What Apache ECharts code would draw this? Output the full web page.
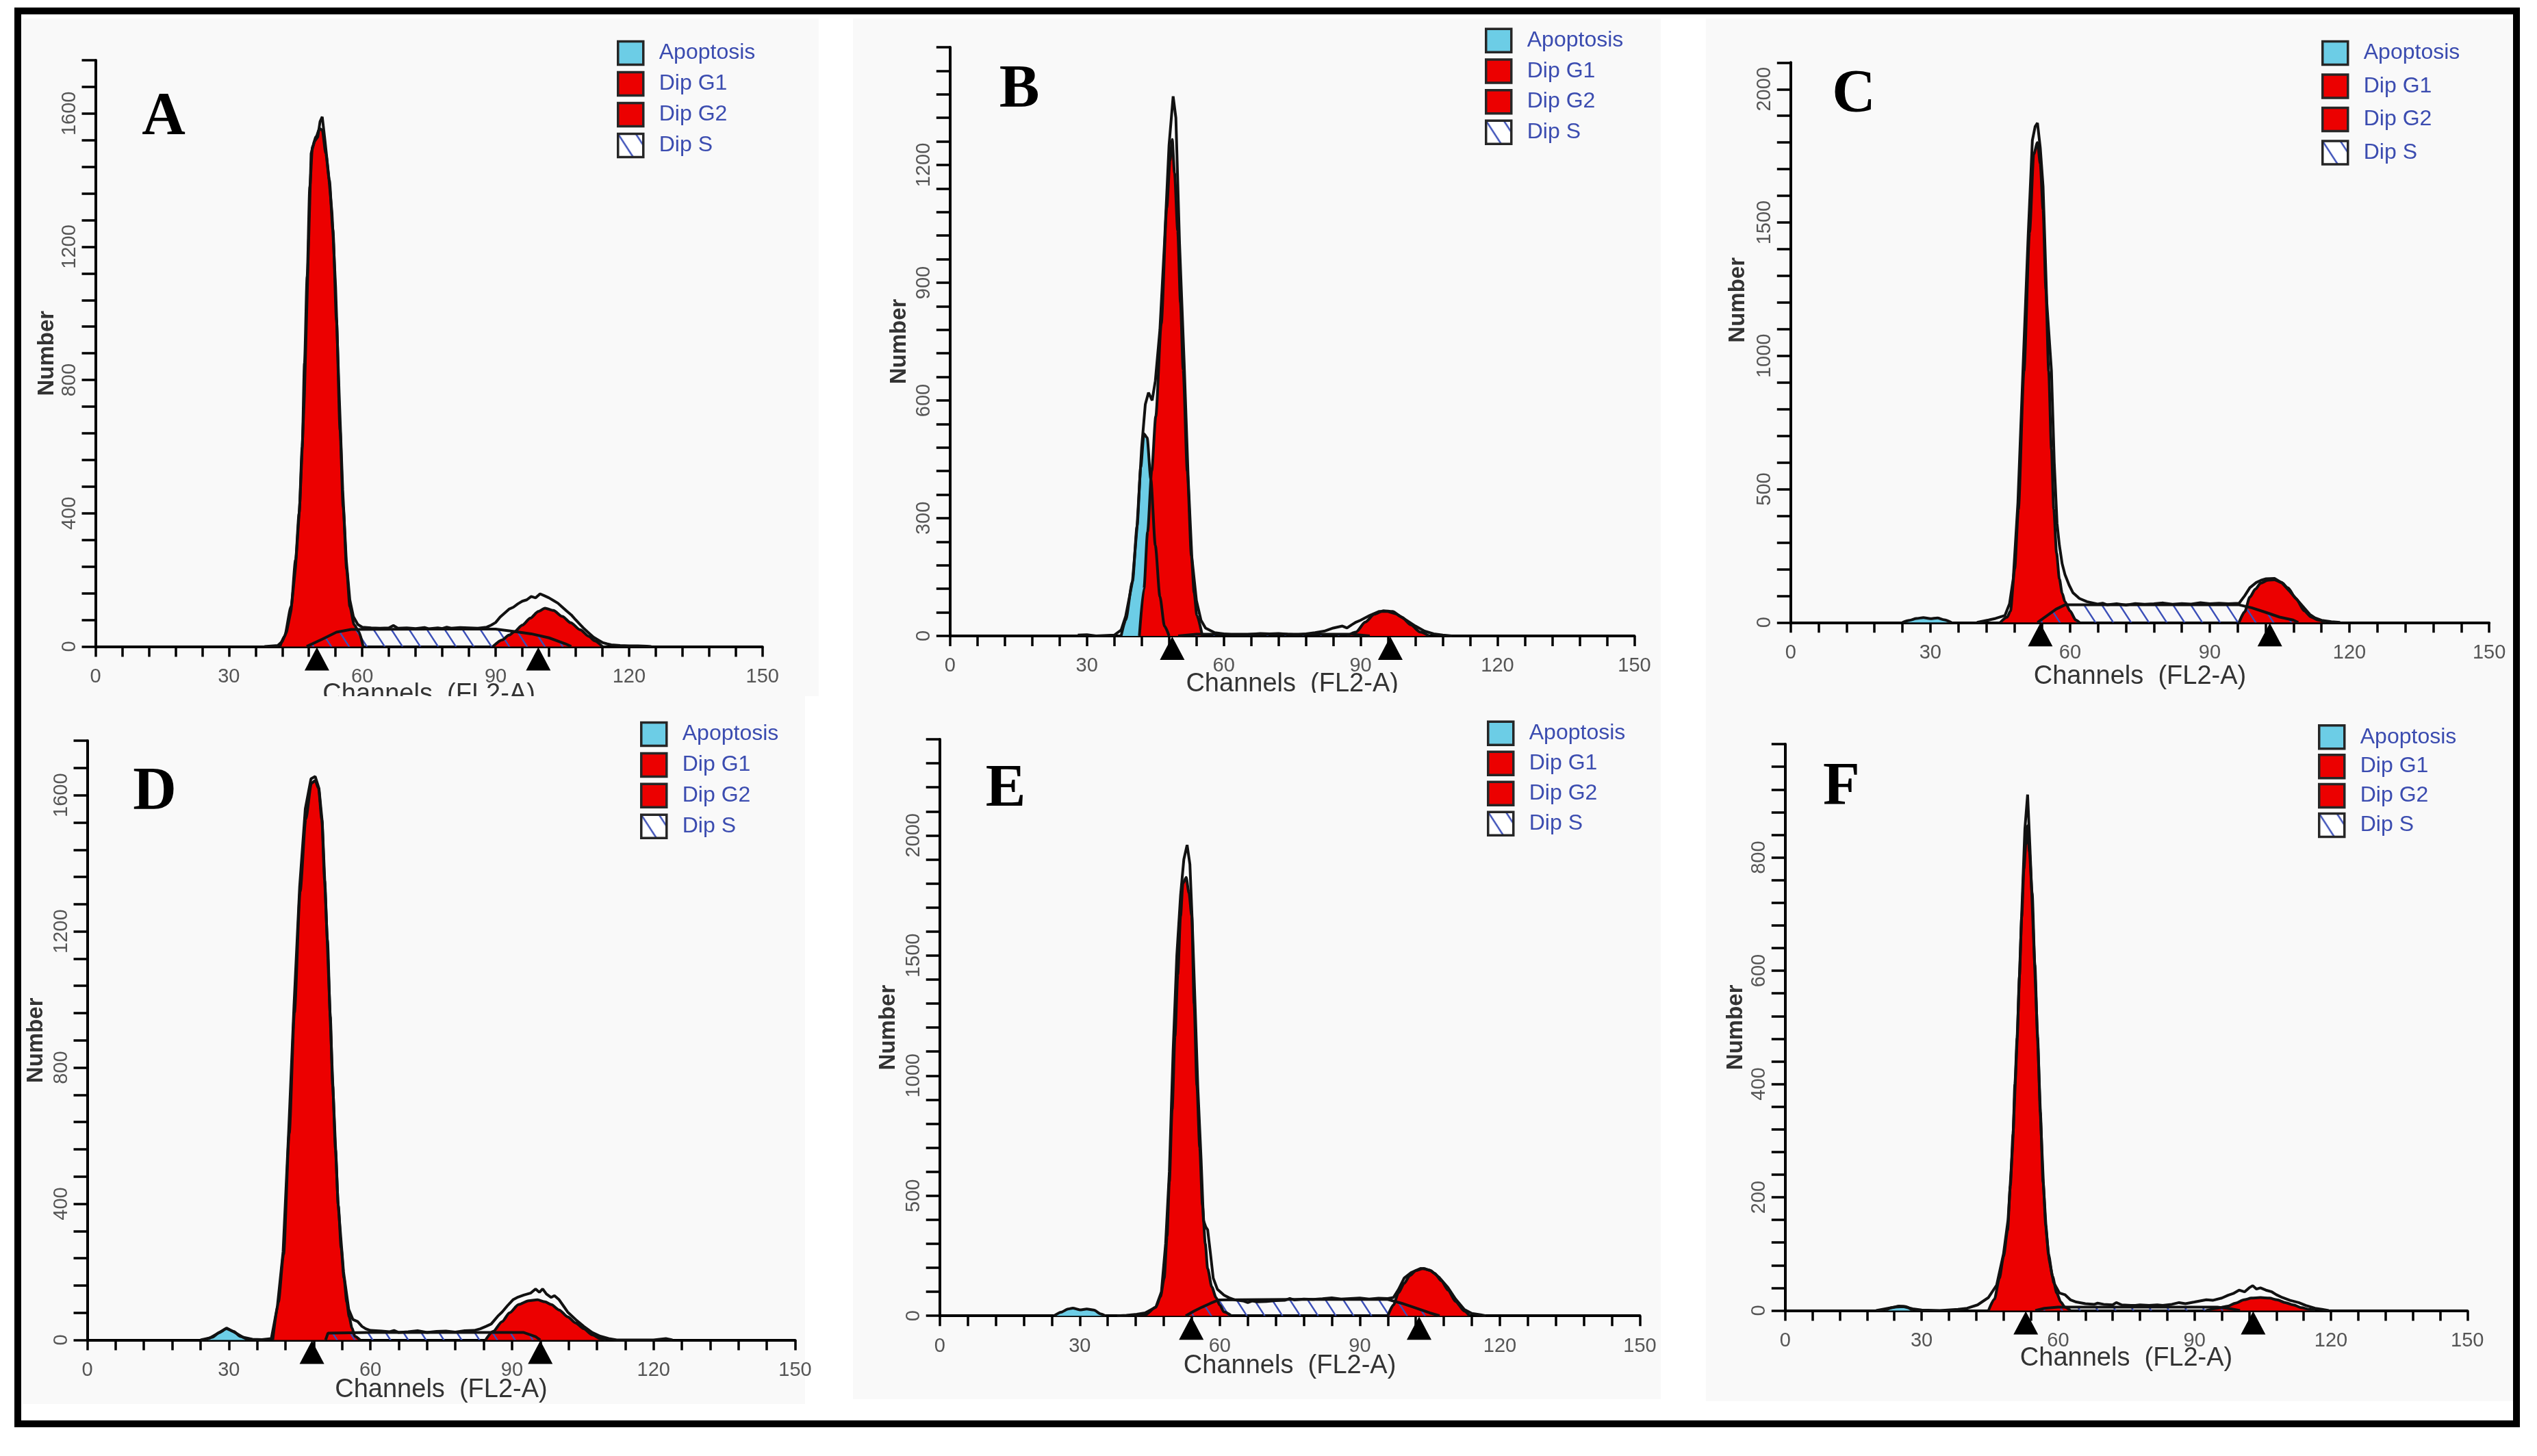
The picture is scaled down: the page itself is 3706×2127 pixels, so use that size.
<!DOCTYPE html>
<html>
<head>
<meta charset="utf-8">
<title>Cell cycle histograms A-F</title>
<script src="https://cdn.jsdelivr.net/npm/echarts@6/dist/echarts.min.js"></script>
<style>
html, body { margin: 0; padding: 0; background: #fff; }
#main { width: 3706px; height: 2127px; }
</style>
</head>
<body>
<div id="main"></div>
<script>
// legend names and panel letters
var legendNames = ['Apoptosis', 'Dip G1', 'Dip G2', 'Dip S'];
var panelLetters = ['A', 'B', 'C', 'D', 'E', 'F'];

// axes: x in channels, y in counts (per panel)
var xMax = 150, xMinor = 6, xLabelStep = 30;
var yMax = [1760, 1500, 2100, 1760, 2400, 1000];
var yMinor = [80, 60, 100, 80, 100, 40];
var yLabelStep = [400, 300, 500, 400, 500, 200];

// ---- panel A ----
var aApop = [];
var aG1 = [[41.5,0],[42.5,30],[44,120],[45,260],[45.8,400],[46.5,600],[47,850],[47.6,1110],[48.2,1380],[48.8,1500],[49.6,1530],[50.4,1555],[51,1550],[51.8,1480],[52.6,1400],[53.4,1250],[54.2,980],[55,650],[55.7,420],[56.5,230],[57.2,120],[58.2,65],[59.2,45],[60.2,0]];
var aG2 = [[89.4,0],[91.5,20],[93,34],[94.2,44],[96,64],[97.8,85],[99.6,105],[101.1,115],[103,108],[105,90],[106.9,71],[109,50],[111,30],[112.3,17],[114,0]];
var aS = [[47.5,0],[51,22],[54.2,43],[57.5,51],[75,52],[90,52],[94.2,45],[98,38],[102,26],[105.7,8],[107,0]];
var aHist = [[38,0],[41,3],[42,15],[43,45],[44,110],[45,240],[46,440],[47,760],[47.8,1150],[48.5,1480],[49.2,1515],[50,1530],[50.5,1575],[51,1590],[51.6,1520],[52.4,1420],[53.2,1300],[54,1080],[54.8,760],[55.6,470],[56.4,260],[57.2,140],[58,90],[59,66],[60,58],[62,56],[64,55],[66,56],[67,63],[68,55],[70,56],[72,54],[74,57],[75,53],[77,56],[78,54],[79,58],[80,55],[82,57],[84,56],[86,55],[88,58],[89,64],[90,72],[91,88],[92,100],[93,112],[94,118],[95,128],[96,136],[97,140],[98,150],[99,146],[100,158],[101,152],[102,146],[103,138],[104,130],[105,118],[106,106],[107,95],[108,80],[109,66],[110,52],[111,40],[112,28],[113,20],[114,12],[115,8],[116,5],[118,3],[120,2],[122,2],[124,1],[125,0]];
var aMarks = [49.8, 99.6];

// ---- panel B ----
var bApop = [[37.5,0],[38.5,40],[40,140],[41,280],[41.8,430],[42.5,515],[43.2,505],[44,400],[45,230],[46,100],[47,25],[48,0]];
var bG1 = [[41.5,0],[42.5,120],[43.3,265],[44.2,420],[45.1,560],[46.3,796],[47.5,1091],[48.2,1210],[48.7,1265],[49.2,1180],[49.9,1032],[50.5,850],[51.1,678],[52,420],[52.9,205],[53.5,110],[54.1,52],[55.3,0]];
var bG2 = [[87,0],[89,10],[91,35],[93,55],[95,64],[97,62],[99,48],[101,28],[103,10],[105,0]];
var bS = [[50,0],[54,4],[88,4],[92,0]];
var bHist = [[28,2],[30,3],[32,0],[36,2],[37.5,15],[38.5,50],[40,140],[41,280],[42,480],[42.8,590],[43.5,620],[44.3,600],[45,650],[46,780],[47,1000],[48,1250],[48.9,1375],[49.5,1320],[50.3,1000],[51.3,700],[52.2,400],[53,200],[54,90],[55,40],[56,20],[58,8],[60,5],[62,3],[64,2],[66,4],[68,6],[70,5],[72,6],[74,4],[76,3],[78,5],[80,8],[82,12],[84,20],[86,25],[87,20],[88,28],[89,35],[90,40],[92,52],[94,62],[96,62],[98,55],[100,40],[102,25],[104,12],[106,5],[108,2],[110,0]];
var bMarks = [48.7, 96.5];

// ---- panel C ----
var cApop = [[24,0],[25.5,8],[27,15],[28.5,18],[30,14],[31.5,17],[33,10],[34.5,0]];
var cG1 = [[45,0],[46.5,20],[47.2,43],[48.1,200],[48.9,424],[50.1,943],[51.3,1462],[52.2,1756],[53,1800],[53.6,1720],[54.2,1548],[54.8,1250],[55.4,943],[56,650],[56.5,424],[57.1,260],[57.7,164],[58.3,110],[58.9,78],[60,43],[61.2,9],[62,0]];
var cG2 = [[96.3,0],[97.5,40],[98.6,95],[99.8,125],[100.9,147],[102.4,158],[103.9,160],[105.4,150],[106.8,130],[108.5,90],[110.3,43],[111.8,20],[113.2,9],[115,0]];
var cS = [[53,0],[55,25],[57,50],[58.9,66],[75,66],[96.3,66],[99,55],[102,38],[105,20],[107.9,9],[109,0]];
var cHist = [[40,0],[42.5,9],[44,15],[46,26],[47,70],[47.8,164],[48.8,450],[50,1000],[51,1450],[51.9,1808],[52.5,1860],[53,1873],[53.6,1780],[54.2,1635],[55,1200],[56,943],[56.6,600],[57.2,372],[57.7,290],[58.3,220],[58.9,180],[59.8,140],[60.6,112],[62,90],[63.6,78],[65.9,69],[67,72],[68,66],[70,70],[72,65],[74,71],[76,68],[78,70],[80,73],[82,68],[84,71],[86,69],[88,74],[90,70],[92,72],[94,70],[96.3,72],[97.5,100],[98.6,130],[100,150],[101,158],[102.1,164],[103.9,165],[105.6,147],[107,120],[108,100],[109.1,78],[110.5,50],[111.5,30],[112.6,17],[114,8],[116.1,3],[118,0]];
var cMarks = [53.6, 102.9];

// ---- panel D ----
var dApop = [[25,0],[26.5,8],[28,22],[29.5,33],[31,25],[32.5,10],[34,0]];
var dG1 = [[39.3,0],[40.5,111],[41.6,252],[42.8,607],[43.9,962],[45.1,1316],[46.3,1529],[47.5,1635],[48.3,1643],[49,1620],[49.7,1529],[50.3,1350],[50.9,1174],[51.5,950],[52,749],[52.6,560],[53.2,394],[53.8,270],[54.4,182],[55,110],[55.5,68],[56.1,35],[56.7,11],[57.8,0]];
var dG2 = [[84.4,0],[86,25],[87.9,54],[89.5,80],[91.4,104],[93.5,115],[95.4,118],[97,112],[98.3,104],[100,88],[101.8,68],[103.5,50],[105.2,33],[107,15],[108.7,4],[109.9,0]];
var dS = [[50.5,0],[51,20],[60,22],[80,22],[92.5,22],[95,10],[96,0]];
var dHist = [[24,0],[26,6],[28,22],[29.5,35],[31,24],[33,8],[35,2],[37,1],[39,4],[40.3,100],[41.5,260],[42.7,620],[43.8,980],[45,1330],[46.2,1560],[47.4,1648],[48.3,1655],[49.1,1620],[49.8,1520],[50.8,1190],[52,760],[53.1,410],[54.3,200],[55.4,90],[56.3,60],[57.3,54],[58.2,40],[59,33],[60,28],[62.4,26],[64,24],[65,28],[66,22],[68,24],[70,27],[72,22],[74,25],[76,26],[78,23],[80,27],[82,28],[83.3,33],[84.5,40],[85.6,47],[87,70],[87.9,82],[89,100],[90.2,118],[91.3,126],[92.5,132],[94,138],[95,150],[95.8,140],[96.5,150],[97.3,135],[98.3,125],[99,130],[100,118],[101,98],[101.8,82],[103.5,60],[105.2,40],[107,22],[108.7,11],[110.5,4],[112.2,0],[120,0],[122.6,4],[124,0]];
var dMarks = [47.6, 96.0];

// ---- panel E ----
var eApop = [[24.5,0],[26,15],[27.5,28],[28.5,32],[30,25],[31.5,28],[33,24],[34.5,8],[35.5,0]];
var eG1 = [[42,0],[44,4],[46.3,36],[47.3,80],[48.1,157],[48.7,330],[49.2,559],[49.8,860],[50.4,1162],[51,1420],[51.6,1664],[52.1,1800],[52.8,1825],[53.4,1760],[54,1664],[54.5,1300],[55.1,960],[55.7,700],[56.3,458],[56.9,300],[57.4,197],[58.3,120],[59.2,76],[60,45],[60.9,16],[62.5,0]];
var eG2 = [[96,0],[97.2,45],[98.3,96],[99.5,135],[100.7,167],[102,188],[103.6,197],[105,190],[106,177],[107.5,145],[108.9,107],[110.5,60],[112.4,20],[113.5,0]];
var eS = [[52.7,0],[54.5,20],[56.2,36],[58,52],[59.7,66],[75,68],[90,68],[96,68],[99,52],[103,26],[105,12],[107.1,0]];
var eHist = [[38,0],[40,2],[42.2,6],[44,12],[46.3,36],[47.5,100],[48.4,300],[49.2,600],[50,1100],[50.8,1500],[51.6,1750],[52.3,1900],[53,1960],[53.6,1880],[54.1,1640],[54.7,1300],[55.3,950],[56,650],[56.5,398],[57,370],[57.4,358],[58,260],[58.6,157],[59.5,110],[60.9,86],[62,75],[63.3,66],[65,62],[66,55],[67,62],[68,58],[70,60],[72,63],[74,65],[75,72],[76,66],[78,70],[80,68],[82,71],[84,75],[86,70],[88,72],[90,74],[92,70],[94,73],[96,72],[97.2,76],[98.3,110],[99.5,157],[101,180],[103,197],[104,195],[105.3,187],[107,160],[108.9,117],[110.5,70],[112.4,26],[114,10],[115.9,4],[117,0]];
var eMarks = [53.9, 102.7];

// ---- panel F ----
var fApop = [[22,0],[23.5,5],[25,8],[26.5,7],[28,0]];
var fG1 = [[44.7,0],[46,20],[47.1,57],[48,95],[48.9,142],[49.5,220],[50.1,312],[50.5,400],[51,482],[51.5,590],[52,695],[52.5,780],[52.9,822],[53.3,856],[53.7,810],[54.3,737],[54.9,610],[55.5,482],[56.1,350],[56.7,227],[57.3,150],[57.9,99],[58.8,60],[59.7,31],[60.6,15],[61.5,6],[62.7,0]];
var fG2 = [[92.6,0],[95,4],[97.4,8],[99,13],[100.9,19],[102.5,22],[104.5,23],[106.5,22],[108.1,19],[110,14],[111.7,10],[113.5,5],[115.3,2],[116.5,0]];
var fS = [[55,0],[57,4],[60,6],[80,6],[95,6],[98,3],[100,0]];
var fHist = [[20,0],[22,3],[24,6],[26,7],[28,3],[30,1],[34,0],[38,2],[40,4],[42.3,10],[44.7,23],[46.5,45],[48,100],[49,160],[50,290],[51,480],[52,700],[52.7,850],[53.3,911],[53.8,820],[54.4,700],[55,580],[55.6,460],[56.2,330],[56.8,220],[57.4,140],[58,92],[59,50],[60.3,31],[61.5,28],[62.7,19],[64,15],[66,12],[68,11],[68.7,13],[70,11],[72,10],[72.8,14],[74,10],[76,9],[77,9],[78,10],[80,9],[81.8,10],[83,9],[85,11],[86.6,14],[88,12],[90,15],[92.6,19],[94,18],[96,22],[97.4,27],[98.5,30],[99.8,36],[101,33],[102,40],[102.8,44],[103.6,38],[104.5,40],[105.7,36],[107,33],[108,28],[109.3,23],[111,18],[112.9,14],[114.5,9],[116.5,4],[118,2],[119.5,0]];
var fMarks = [52.9, 102.9];

var panelData = [
  { apop: aApop, g1: aG1, g2: aG2, s: aS, hist: aHist, marks: aMarks },
  { apop: bApop, g1: bG1, g2: bG2, s: bS, hist: bHist, marks: bMarks },
  { apop: cApop, g1: cG1, g2: cG2, s: cS, hist: cHist, marks: cMarks },
  { apop: dApop, g1: dG1, g2: dG2, s: dS, hist: dHist, marks: dMarks },
  { apop: eApop, g1: eG1, g2: eG2, s: eS, hist: eHist, marks: eMarks },
  { apop: fApop, g1: fG1, g2: fG2, s: fS, hist: fHist, marks: fMarks }
];

// layout of each sub-plot (pixels)
var layout = [
  { l: 139.5,  t: 87.9,   w: 974.2,  h: 856.5, gx: 51, gy: 54, letter: [239, 172],   lg: [901, 58.7, 7.5] },
  { l: 1387.8, t: 69,     w: 999.7,  h: 859.9, gx: 52, gy: 57, letter: [1489, 132],  lg: [2169, 40.5, 7.2] },
  { l: 2615.8, t: 91.3,   w: 1020.3, h: 818,   gx: 60, gy: 60, letter: [2708, 139],  lg: [3391, 58.7, 11], shift: 124 },
  { l: 127.5,  t: 1082.1, w: 1034,   h: 875.4, gx: 54, gy: 58, letter: [226, 1158],  lg: [935, 1053.8, 7.4] },
  { l: 1372.7, t: 1080,   w: 1022.8, h: 842.2, gx: 54, gy: 58, letter: [1469, 1154], lg: [2172, 1052.4, 6.5] },
  { l: 2607.8, t: 1087.1, w: 996.5,  h: 827.4, gx: 51, gy: 55, letter: [2690, 1151], lg: [3386, 1058, 5.4] }
];
var panelBg = [
  [32, 27, 1164, 990], [1246, 27, 1180, 985], [2492, 27, 1184, 990],
  [32, 1017, 1144, 1034], [1246, 1012, 1180, 1032], [2492, 1017, 1184, 1030]
];

var RED = '#ec0000', CYAN = '#6ccde6', EDGE = '#111', HATCH = '#3b4fb8';
var FONT = 'Liberation Sans';

// diagonal hatch tile for "Dip S"
function hatch(bg) {
  var c = document.createElement('canvas');
  c.width = 26; c.height = 40;
  var g = c.getContext('2d');
  if (bg) { g.fillStyle = bg; g.fillRect(0, 0, 26, 40); }
  g.strokeStyle = HATCH;
  g.lineWidth = 2.4;
  [-26, 0, 26].forEach(function (o) {
    g.beginPath(); g.moveTo(o, 0); g.lineTo(o + 26, 40); g.stroke();
  });
  return c;
}
var sFill = { image: hatch(null), repeat: 'repeat' };
var sLegendFill = { image: hatch('#ffffff'), repeat: 'repeat' };

var grids = [], xAxes = [], yAxes = [], series = [], legends = [], graphics = [];

panelBg.forEach(function (b, i) {
  graphics.push({
    type: 'rect', z: i < 3 ? 0 : 2, silent: true,
    shape: { x: b[0], y: b[1], width: b[2], height: b[3] },
    style: { fill: '#f9f9f9' }
  });
});

function area(name, data, fill, i, smooth) {
  return {
    name: name, type: 'line', xAxisIndex: i, yAxisIndex: i, data: data,
    symbol: 'none', smooth: smooth, smoothMonotone: 'x', z: 4,
    itemStyle: { color: typeof fill === 'string' ? fill : '#ffffff' },
    lineStyle: { color: EDGE, width: 4 },
    areaStyle: { color: fill, opacity: 1 },
    emphasis: { disabled: true }, silent: true
  };
}

layout.forEach(function (p, i) {
  var top = i < 3;
  grids.push({ left: p.l, top: p.t, width: p.w, height: p.h, containLabel: false, outerBoundsMode: 'none' });

  xAxes.push({
    type: 'value', gridIndex: i, min: 0, max: xMax, interval: xMinor, z: top ? 1 : 3,
    name: 'Channels  (FL2-A)', nameLocation: 'middle', nameGap: p.gx, nameMoveOverlap: false,
    nameTextStyle: { fontFamily: FONT, fontSize: 38, color: '#333' },
    axisLine: { onZero: false, lineStyle: { color: '#000', width: 4 } },
    axisTick: { length: 15, lineStyle: { color: '#000', width: 3.5 } },
    splitLine: { show: false },
    axisLabel: {
      margin: 30, fontFamily: FONT, fontSize: 29, color: '#555',
      formatter: function (v) { return v % xLabelStep === 0 ? String(v) : ''; }
    }
  });

  var step = yLabelStep[i], top_ = yMax[i];
  yAxes.push({
    type: 'value', gridIndex: i, min: 0, max: yMax[i], interval: yMinor[i], z: top ? 1 : 3,
    name: 'Number', nameLocation: 'middle', nameGap: p.gy, nameRotate: 90, nameMoveOverlap: false,
    nameTextStyle: {
      fontFamily: FONT, fontSize: 33, fontWeight: 'bold', color: '#333',
      padding: p.shift ? [0, 0, 0, p.shift] : 0
    },
    axisLine: { onZero: false, lineStyle: { color: '#000', width: 4 } },
    axisTick: { length: 20, lineStyle: { color: '#000', width: 3.5 } },
    splitLine: { show: false },
    axisLabel: {
      rotate: 90, margin: 23, fontFamily: FONT, fontSize: 29, color: '#555',
      formatter: function (v) { return (v % step === 0 && v !== top_) ? String(v) : ''; }
    }
  });

  var d = panelData[i];
  series.push(area('Apoptosis', d.apop, CYAN, i, 0.25));
  series.push(area('Dip G1', d.g1, RED, i, 0.25));
  series.push(area('Dip G2', d.g2, RED, i, 0.25));
  series.push(area('Dip S', d.s, sFill, i, false));
  series.push({
    name: 'Histogram', type: 'line', xAxisIndex: i, yAxisIndex: i, data: d.hist,
    symbol: 'none', z: 4, silent: true,
    lineStyle: { color: EDGE, width: 4 }, itemStyle: { color: EDGE },
    emphasis: { disabled: true }
  });
  series.push({
    name: 'Peak', type: 'scatter', xAxisIndex: i, yAxisIndex: i, z: 5, clip: false, silent: true,
    data: d.marks.map(function (x) { return [x, 0]; }),
    symbol: 'triangle', symbolSize: [36, 34], symbolOffset: [0, 18],
    itemStyle: { color: '#000', opacity: 1 },
    emphasis: { disabled: true }
  });

  legends.push({
    left: p.lg[0], top: p.lg[1], orient: 'vertical', padding: 0,
    itemWidth: 37, itemHeight: 34, itemGap: p.lg[2], icon: 'rect',
    selectedMode: false, z: 6,
    textStyle: { color: '#3b4cb0', fontSize: 32, fontFamily: FONT, padding: [0, 0, 0, 18] },
    itemStyle: { borderColor: '#262626', borderWidth: 3.5 },
    data: [
      { name: legendNames[0], itemStyle: { color: CYAN } },
      { name: legendNames[1], itemStyle: { color: RED } },
      { name: legendNames[2], itemStyle: { color: RED } },
      { name: legendNames[3], itemStyle: { color: sLegendFill } }
    ]
  });

  graphics.push({
    type: 'text', z: 6, silent: true, x: p.letter[0], y: p.letter[1],
    style: {
      text: panelLetters[i], fill: '#000', fontFamily: 'Liberation Serif',
      fontSize: 88, fontWeight: 'bold', align: 'center', verticalAlign: 'middle',
      textAlign: 'center', textVerticalAlign: 'middle'
    }
  });
});

// outer frame
graphics.push({
  type: 'rect', z: 6, silent: true,
  shape: { x: 26, y: 16, width: 3650, height: 2064 },
  style: { fill: 'none', stroke: '#000', lineWidth: 10 }
});

var chart = echarts.init(document.getElementById('main'), null, { renderer: 'canvas' });
chart.setOption({
  backgroundColor: '#ffffff',
  animation: false,
  grid: grids,
  xAxis: xAxes,
  yAxis: yAxes,
  legend: legends,
  graphic: { elements: graphics },
  series: series
});
</script>
</body>
</html>
